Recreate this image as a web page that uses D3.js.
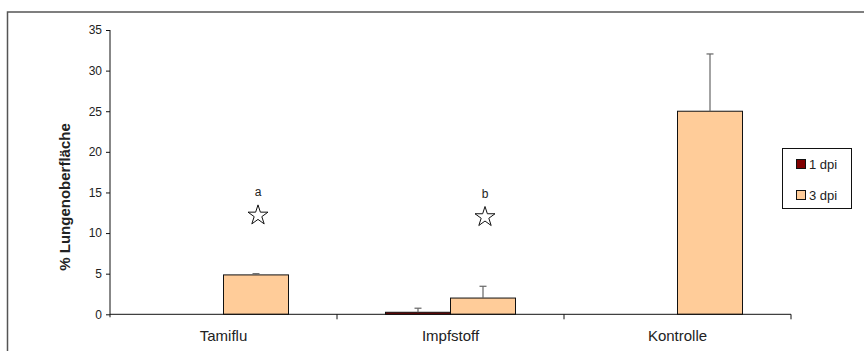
<!DOCTYPE html>
<html>
<head>
<meta charset="utf-8">
<script src="https://cdn.jsdelivr.net/npm/d3@7"></script>
<style>
  body { margin: 0; background: #fff; }
  text { font-family: "Liberation Sans", Arial, sans-serif; fill: #222; }
</style>
</head>
<body>
<script>
// Daten
const categories = ['Tamiflu', 'Impfstoff', 'Kontrolle'];
const series = ['1 dpi', '3 dpi'];
const dpi1 = [0, 0.25, 0];
const dpi3 = [4.85, 2.0, 25.0];
const err1 = [0, 0.5, 0];
const err3 = [0.15, 1.45, 7.05];
const yTicks = [0, 5, 10, 15, 20, 25, 30, 35];
// Signifikanz-Markierungen (Stern über 3 dpi)
const markCats = ['Tamiflu', 'Impfstoff'];
const markLetters = ['a', 'b'];
const starValues = [12.3, 12.1];
const letterValues = [15.0, 14.8];

const colors = { '1 dpi': '#800000', '3 dpi': '#ffcc99' };

const width = 864, height = 351;
const svg = d3.select('body').append('svg')
    .attr('width', width)
    .attr('height', height);

// Rahmen
svg.append('rect')
    .attr('x', 7.5).attr('y', 12)
    .attr('width', 900).attr('height', 400)
    .attr('fill', 'white')
    .attr('stroke', '#555')
    .attr('stroke-width', 1.5);

const x = d3.scaleBand().domain(categories).range([110, 791]);
const xs = d3.scaleBand().domain(series).range([0, x.bandwidth()]).paddingOuter(0.746);
const y = d3.scaleLinear().domain([0, 35]).range([314.3, 30]);

// Balken
const rows = [];
categories.forEach((c, i) => {
    rows.push({ cat: c, s: '1 dpi', v: dpi1[i], e: err1[i] });
    rows.push({ cat: c, s: '3 dpi', v: dpi3[i], e: err3[i] });
});
const shown = rows.filter(d => d.v > 0);

svg.append('g').selectAll('rect')
    .data(shown).enter()
    .append('rect')
    .attr('x', d => x(d.cat) + xs(d.s))
    .attr('y', d => y(d.v))
    .attr('width', xs.bandwidth())
    .attr('height', d => y(0) - y(d.v))
    .attr('fill', d => colors[d.s])
    .attr('stroke', '#111')
    .attr('stroke-width', 1);

// Fehlerbalken (nur nach oben)
const eg = svg.append('g').attr('stroke', '#666').attr('stroke-width', 1.2);
shown.filter(d => d.e > 0).forEach(d => {
    const cx = x(d.cat) + xs(d.s) + xs.bandwidth() / 2;
    eg.append('line')
        .attr('x1', cx).attr('x2', cx)
        .attr('y1', y(d.v)).attr('y2', y(d.v + d.e));
    eg.append('line')
        .attr('x1', cx - 3.5).attr('x2', cx + 3.5)
        .attr('y1', y(d.v + d.e)).attr('y2', y(d.v + d.e));
});

// Y-Achse
const yAxis = svg.append('g')
    .attr('transform', 'translate(110,0)')
    .call(d3.axisLeft(y).tickValues(yTicks).tickSize(4).tickSizeOuter(0).tickPadding(4));
yAxis.select('.domain').attr('stroke', '#111').attr('d', `M0,${y(35)}V${y(0) + 3}`);
yAxis.selectAll('line').attr('stroke', '#111');
yAxis.selectAll('text').style('font-size', '12px').attr('fill', '#222');

// X-Achse
const xAxis = svg.append('g')
    .attr('transform', `translate(0,${y(0)})`);
xAxis.append('line')
    .attr('x1', 110).attr('x2', 791)
    .attr('stroke', '#111');
xAxis.selectAll('.sep')
    .data(categories.slice(1).concat(['end'])).enter()
    .append('line')
    .attr('x1', (d, i) => 110 + x.step() * (i + 1))
    .attr('x2', (d, i) => 110 + x.step() * (i + 1))
    .attr('y1', 0).attr('y2', 5)
    .attr('stroke', '#111');
xAxis.selectAll('text')
    .data(categories).enter()
    .append('text')
    .attr('x', d => x(d) + x.bandwidth() / 2)
    .attr('y', 27)
    .attr('text-anchor', 'middle')
    .style('font-size', '15px')
    .text(d => d);

// Achsentitel
svg.append('text')
    .attr('transform', 'translate(70,197) rotate(-90)')
    .attr('text-anchor', 'middle')
    .style('font-size', '15px')
    .style('font-weight', 'bold')
    .text('% Lungenoberfläche');

// Sterne und Buchstaben
const star = d3.symbol().type(d3.symbolStar).size(124);
markCats.forEach((c, i) => {
    const cx = x(c) + xs('3 dpi') + xs.bandwidth() / 2 + 2;
    svg.append('path')
        .attr('d', star())
        .attr('transform', `translate(${cx},${y(starValues[i]) + 1})`)
        .attr('fill', 'white')
        .attr('stroke', '#111')
        .attr('stroke-width', 1);
    svg.append('text')
        .attr('x', cx)
        .attr('y', y(letterValues[i]) + 4)
        .attr('text-anchor', 'middle')
        .style('font-size', '12px')
        .text(markLetters[i]);
});

// Legende
const lg = svg.append('g');
lg.append('rect')
    .attr('x', 782.5).attr('y', 148.5)
    .attr('width', 69).attr('height', 60)
    .attr('fill', 'white')
    .attr('stroke', '#111');
series.forEach((s, i) => {
    const cy = 164 + i * 31;
    lg.append('rect')
        .attr('x', 796.5).attr('y', cy - 4.5)
        .attr('width', 9).attr('height', 9)
        .attr('fill', colors[s])
        .attr('stroke', '#111');
    lg.append('text')
        .attr('x', 809)
        .attr('y', cy + 4.5)
        .style('font-size', '13px')
        .text(s);
});
</script>
</body>
</html>
